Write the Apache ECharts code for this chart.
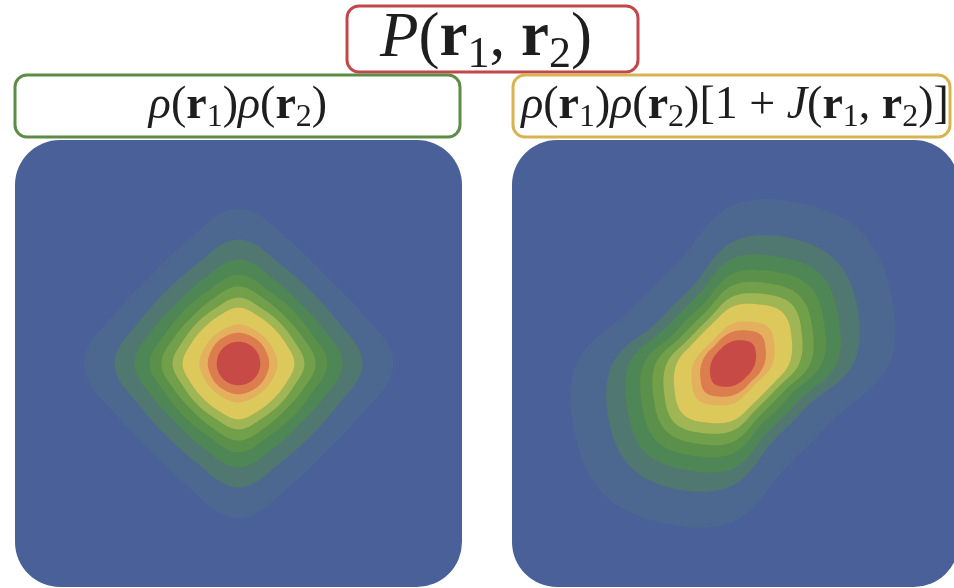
<!DOCTYPE html>
<html>
<head>
<meta charset="utf-8">
<script src="https://cdn.jsdelivr.net/npm/echarts@6/dist/echarts.min.js"></script>
<style>
  html, body { margin: 0; padding: 0; background: #ffffff; }
  #chart { width: 954px; height: 588px; }
</style>
</head>
<body>
<div id="chart"></div>
<script>
// Directions (degrees, counter-clockwise from +r1) at which each contour radius is given
const angles = [0, 22.5, 45, 67.5, 90, 112.5, 135, 157.5, 180, 202.5, 225, 247.5, 270, 292.5, 315, 337.5];

// Filled contour bands, outermost (lowest density) to innermost (peak)
const bandColors = ['#4d6890', '#507870', '#4f8656', '#5a9049', '#72a04a', '#a0b553',
                    '#dcc85b', '#e5b05d', '#db7d4e', '#c84a47'];

// Uncorrelated product rho(r1) rho(r2): contour radii per direction
const productRadii = [
  [2.77, 2.38, 2.22, 2.38, 2.77, 2.38, 2.22, 2.38, 2.77, 2.38, 2.22, 2.38, 2.77, 2.38, 2.22, 2.38],
  [2.22, 1.93, 1.83, 1.93, 2.22, 1.93, 1.83, 1.93, 2.22, 1.93, 1.83, 1.93, 2.22, 1.93, 1.83, 1.93],
  [1.86, 1.64, 1.54, 1.64, 1.86, 1.64, 1.54, 1.64, 1.86, 1.64, 1.54, 1.64, 1.86, 1.64, 1.54, 1.64],
  [1.59, 1.41, 1.36, 1.41, 1.59, 1.41, 1.36, 1.41, 1.59, 1.41, 1.36, 1.41, 1.59, 1.41, 1.36, 1.41],
  [1.38, 1.24, 1.18, 1.24, 1.38, 1.24, 1.18, 1.24, 1.38, 1.24, 1.18, 1.24, 1.38, 1.24, 1.18, 1.24],
  [1.18, 1.07, 1.04, 1.07, 1.18, 1.07, 1.04, 1.07, 1.18, 1.07, 1.04, 1.07, 1.18, 1.07, 1.04, 1.07],
  [1.00, 0.92, 0.89, 0.92, 1.00, 0.92, 0.89, 0.92, 1.00, 0.92, 0.89, 0.92, 1.00, 0.92, 0.89, 0.92],
  [0.70, 0.67, 0.66, 0.67, 0.70, 0.67, 0.66, 0.67, 0.70, 0.67, 0.66, 0.67, 0.70, 0.67, 0.66, 0.67],
  [0.55, 0.54, 0.54, 0.54, 0.55, 0.54, 0.54, 0.54, 0.55, 0.54, 0.54, 0.54, 0.55, 0.54, 0.54, 0.54],
  [0.39, 0.39, 0.39, 0.39, 0.39, 0.39, 0.39, 0.39, 0.39, 0.39, 0.39, 0.39, 0.39, 0.39, 0.39, 0.39]
];

// Correlated pair density rho(r1) rho(r2) [1 + J(r1, r2)]: contour radii per direction
const correlatedRadii = [
  [2.83, 3.11, 3.31, 3.11, 2.83, 2.17, 2.00, 2.17, 2.83, 3.11, 3.31, 3.11, 2.83, 2.17, 2.00, 2.17],
  [2.18, 2.45, 2.62, 2.45, 2.18, 1.63, 1.50, 1.63, 2.18, 2.45, 2.62, 2.45, 2.18, 1.63, 1.50, 1.63],
  [1.88, 2.07, 2.25, 2.07, 1.88, 1.43, 1.32, 1.43, 1.88, 2.07, 2.25, 2.07, 1.88, 1.43, 1.32, 1.43],
  [1.61, 1.79, 1.96, 1.79, 1.61, 1.23, 1.15, 1.23, 1.61, 1.79, 1.96, 1.79, 1.61, 1.23, 1.15, 1.23],
  [1.40, 1.56, 1.71, 1.56, 1.40, 1.09, 1.01, 1.09, 1.40, 1.56, 1.71, 1.56, 1.40, 1.09, 1.01, 1.09],
  [1.20, 1.35, 1.50, 1.35, 1.20, 0.95, 0.88, 0.95, 1.20, 1.35, 1.50, 1.35, 1.20, 0.95, 0.88, 0.95],
  [1.02, 1.15, 1.28, 1.15, 1.02, 0.83, 0.77, 0.83, 1.02, 1.15, 1.28, 1.15, 1.02, 0.83, 0.77, 0.83],
  [0.72, 0.81, 0.91, 0.81, 0.72, 0.60, 0.55, 0.60, 0.72, 0.81, 0.91, 0.81, 0.72, 0.60, 0.55, 0.60],
  [0.57, 0.64, 0.72, 0.64, 0.57, 0.50, 0.46, 0.50, 0.57, 0.64, 0.72, 0.64, 0.57, 0.50, 0.46, 0.50],
  [0.40, 0.45, 0.50, 0.45, 0.40, 0.36, 0.34, 0.36, 0.40, 0.45, 0.50, 0.45, 0.40, 0.36, 0.34, 0.36]
];

// Both distributions are centred at the origin of (r1, r2)
const center = [0, 0];
const axisRange = [-4, 4];

const SERIF = '"Liberation Serif", "DejaVu Serif", serif';
const INK = '#1e1e1e';
const STEPS = 12; // outline samples drawn between neighbouring directions

function bandData(radii) {
  return radii.map((_, k) => [center[0], center[1], k]);
}

// Smooth closed outline through the given radii (periodic Catmull-Rom in angle)
function outline(r) {
  const n = r.length, out = [];
  const span = 360 / n;
  for (let i = 0; i < n; i++) {
    const p0 = r[(i - 1 + n) % n], p1 = r[i], p2 = r[(i + 1) % n], p3 = r[(i + 2) % n];
    for (let s = 0; s < STEPS; s++) {
      const t = s / STEPS, t2 = t * t, t3 = t2 * t;
      const rr = 0.5 * (2 * p1 + (-p0 + p2) * t + (2 * p0 - 5 * p1 + 4 * p2 - p3) * t2 +
                        (-p0 + 3 * p1 - 3 * p2 + p3) * t3);
      out.push([angles[i] + t * span, rr]);
    }
  }
  return out;
}

function contourRenderer(radii) {
  return function (params, api) {
    const lvl = api.value(2);
    const cx = api.value(0), cy = api.value(1);
    const pts = outline(radii[lvl]).map(([deg, r]) => {
      const t = deg * Math.PI / 180;
      return api.coord([cx + r * Math.cos(t), cy + r * Math.sin(t)]);
    });
    return {
      type: 'polygon',
      shape: { points: pts },
      style: { fill: bandColors[lvl] }
    };
  };
}

function mathStyles(size) {
  const sub = Math.round(size * 0.7);
  return {
    n:  { fontFamily: SERIF, fontSize: size, fill: INK },
    it: { fontFamily: SERIF, fontSize: size, fontStyle: 'italic', fill: INK },
    b:  { fontFamily: SERIF, fontSize: size, fontWeight: 'bold', fill: INK },
    s:  { fontFamily: SERIF, fontSize: sub, fill: INK, padding: [Math.round(size * 0.5), 0, 0, 0] }
  };
}

const chart = echarts.init(document.getElementById('chart'), null, { renderer: 'canvas' });

const axisCommon = { type: 'value', min: axisRange[0], max: axisRange[1], show: false };

chart.setOption({
  animation: false,
  backgroundColor: '#ffffff',
  grid: [
    { left: 15, top: 140, width: 447, height: 447 },
    { left: 512, top: 140, width: 447, height: 447 }
  ],
  xAxis: [ Object.assign({ gridIndex: 0 }, axisCommon), Object.assign({ gridIndex: 1 }, axisCommon) ],
  yAxis: [ Object.assign({ gridIndex: 0 }, axisCommon), Object.assign({ gridIndex: 1 }, axisCommon) ],
  graphic: [
    // rounded plot panels
    { type: 'rect', z: 0, shape: { x: 15, y: 140, width: 447, height: 447, r: 45 }, style: { fill: '#4a6099' } },
    { type: 'rect', z: 0, shape: { x: 512, y: 140, width: 447, height: 447, r: 45 }, style: { fill: '#4a6099' } },
    // label boxes
    { type: 'rect', z: 10, shape: { x: 347, y: 6, width: 291, height: 66, r: 12 },
      style: { fill: '#ffffff', stroke: '#c1474b', lineWidth: 3 } },
    { type: 'rect', z: 10, shape: { x: 15, y: 75, width: 445, height: 62, r: 12 },
      style: { fill: '#ffffff', stroke: '#5e8c46', lineWidth: 3 } },
    { type: 'rect', z: 10, shape: { x: 513, y: 75, width: 437, height: 62, r: 12 },
      style: { fill: '#ffffff', stroke: '#d8b450', lineWidth: 3 } },
    { type: 'text', z: 11, x: 486, y: 39,
      style: { text: '{it|P}{n|(}{b|r}{s|1}{n|, }{b|r}{s|2}{n|)}', rich: mathStyles(63),
               align: 'center', verticalAlign: 'middle' } },
    { type: 'text', z: 11, x: 238, y: 106,
      style: { text: '{it|ρ}{n|(}{b|r}{s|1}{n|)}{it|ρ}{n|(}{b|r}{s|2}{n|)}', rich: mathStyles(46),
               align: 'center', verticalAlign: 'middle' } },
    { type: 'text', z: 11, x: 735, y: 106,
      style: { text: '{it|ρ}{n|(}{b|r}{s|1}{n|)}{it|ρ}{n|(}{b|r}{s|2}{n|)}{n|[1 + }{it|J}{n|(}{b|r}{s|1}{n|, }{b|r}{s|2}{n|)]}',
               rich: mathStyles(46), align: 'center', verticalAlign: 'middle' } }
  ],
  series: [
    { type: 'custom', coordinateSystem: 'cartesian2d', xAxisIndex: 0, yAxisIndex: 0, silent: true, z: 2,
      renderItem: contourRenderer(productRadii), data: bandData(productRadii) },
    { type: 'custom', coordinateSystem: 'cartesian2d', xAxisIndex: 1, yAxisIndex: 1, silent: true, z: 2,
      renderItem: contourRenderer(correlatedRadii), data: bandData(correlatedRadii) }
  ]
});
</script>
</body>
</html>
